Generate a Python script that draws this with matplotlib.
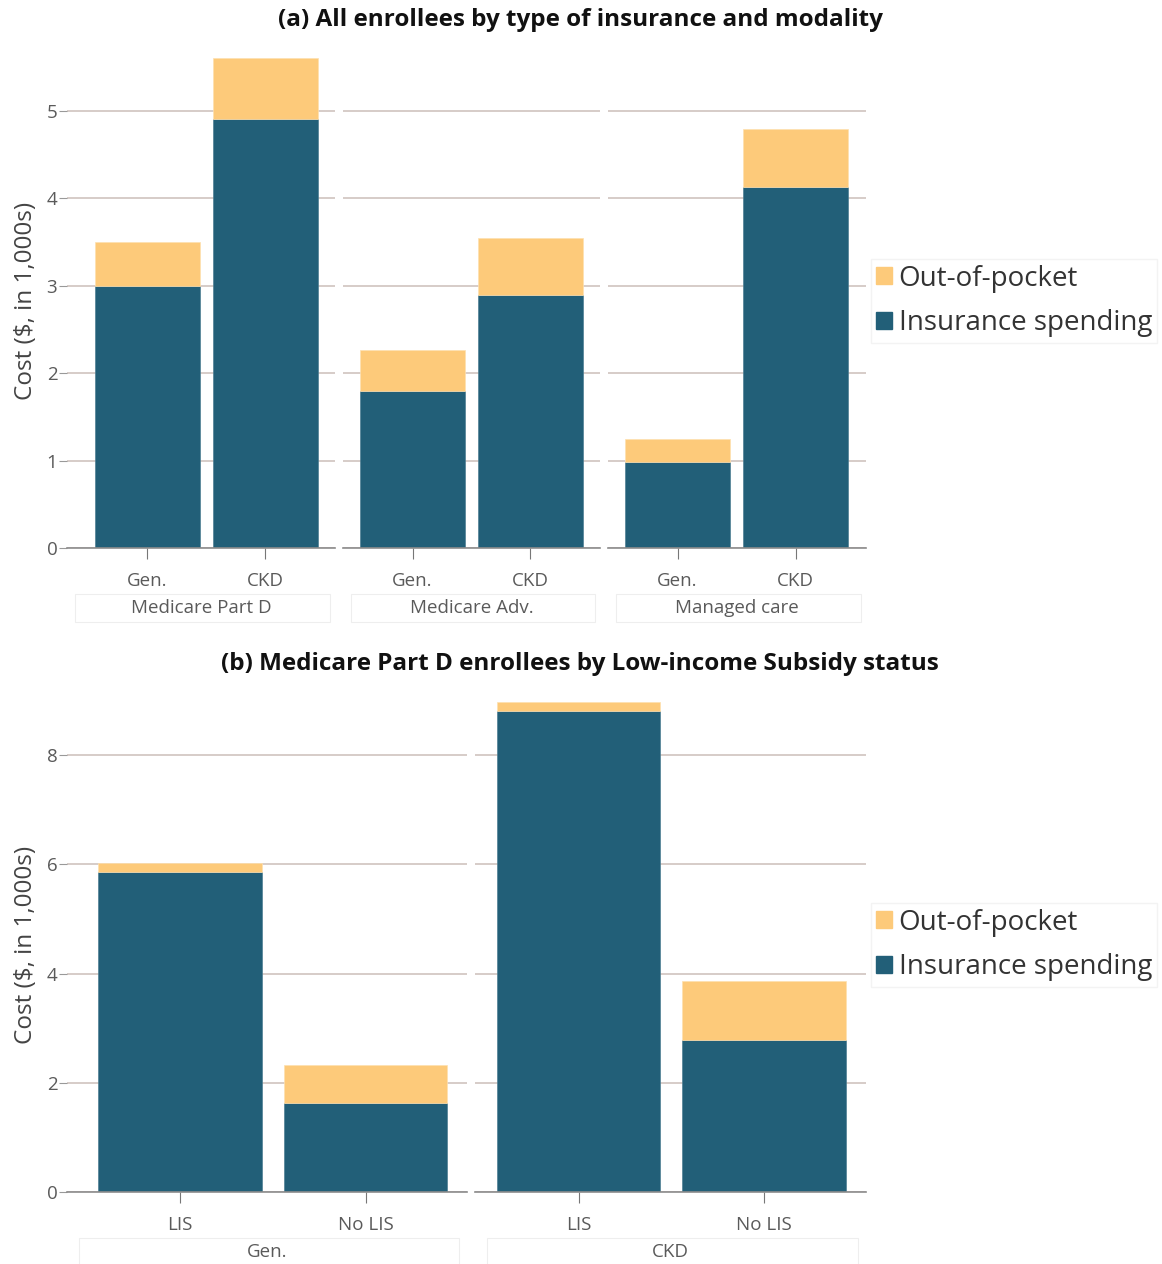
import matplotlib
matplotlib.use("Agg")
import matplotlib.pyplot as plt
from matplotlib.patches import Rectangle, Patch

plt.rcParams['font.family'] = ['Open Sans', 'DejaVu Sans']

# panel (a) data
groups_a = ["Medicare Part D", "Medicare Adv.", "Managed care"]
cats_a = ["Gen.", "CKD"]
ins_a = [[3.0, 4.91], [1.80, 2.89], [0.98, 4.13]]
oop_a = [[0.50, 0.69], [0.47, 0.65], [0.27, 0.66]]

# panel (b) data
groups_b = ["Gen.", "CKD"]
cats_b = ["LIS", "No LIS"]
ins_b = [[5.86, 1.63], [8.81, 2.79]]
oop_b = [[0.17, 0.70], [0.16, 1.07]]

teal = "#225f78"
gold = "#fdca7a"
grid_c = "#d3c8c4"
tick_c = "#5a5a5a"

W, H = 1162, 1264
fig = plt.figure(figsize=(W / 100, H / 100), dpi=100)


def px_axes(x0, x1, ytop, ybot):
    return fig.add_axes([x0 / W, 1 - ybot / H, (x1 - x0) / W, (ybot - ytop) / H])


def style(ax, ymax, yticks, show_y, xlim):
    ax.set_ylim(0, ymax)
    ax.set_xlim(*xlim)
    ax.set_yticks(yticks)
    for s in ["top", "right", "left"]:
        ax.spines[s].set_visible(False)
    ax.spines["bottom"].set_color("#8c8c8c")
    ax.spines["bottom"].set_linewidth(1.2)
    ax.yaxis.grid(True, color=grid_c, linewidth=1.3)
    ax.set_axisbelow(True)
    ax.tick_params(axis="x", length=8, color="#777777", labelsize=13.5,
                   labelcolor=tick_c, pad=9)
    ax.tick_params(axis="y", length=6 if show_y else 0, color="#999999",
                   labelsize=13.5, labelcolor=tick_c, pad=1)
    if not show_y:
        ax.set_yticklabels([])


def group_label(ax, text, ypos):
    ax.add_patch(Rectangle((0.03, ypos - 0.028), 0.95, 0.056, transform=ax.transAxes,
                           fill=False, edgecolor="#eeeeee", linewidth=0.8,
                           clip_on=False))
    ax.text(0.5, ypos, text, transform=ax.transAxes, ha="center", va="center",
            fontsize=13.5, color=tick_c)


# ---- panel (a)
xs_a = [(67, 335), (343, 600), (608, 866)]
lims_a = [(-0.682, 1.589), (-0.589, 1.589), (-0.589, 1.597)]
axes_a = []
for i, (x0, x1) in enumerate(xs_a):
    ax = px_axes(x0, x1, 54, 548)
    ax.bar(range(2), ins_a[i], width=0.89, color=teal, edgecolor="#4f7f93", linewidth=0.5)
    ax.bar(range(2), oop_a[i], width=0.89, bottom=ins_a[i], color=gold,
           edgecolor="#fde0b0", linewidth=0.5)
    ax.set_xticks(range(2))
    ax.set_xticklabels(cats_a)
    style(ax, 5.65, range(6), i == 0, lims_a[i])
    group_label(ax, groups_a[i], -0.122)
    axes_a.append(ax)
axes_a[0].set_ylabel("Cost ($, in 1,000s)", fontsize=17.5, color="#444444", labelpad=6)

# ---- panel (b)
xs_b = [(67, 467), (475, 866)]
lims_b = [(-0.609, 1.547), (-0.558, 1.550)]
axes_b = []
for i, (x0, x1) in enumerate(xs_b):
    ax = px_axes(x0, x1, 698, 1192)
    ax.bar(range(2), ins_b[i], width=0.88, color=teal, edgecolor="#4f7f93", linewidth=0.5)
    ax.bar(range(2), oop_b[i], width=0.88, bottom=ins_b[i], color=gold,
           edgecolor="#fde0b0", linewidth=0.5)
    ax.set_xticks(range(2))
    ax.set_xticklabels(cats_b)
    style(ax, 9.05, range(0, 10, 2), i == 0, lims_b[i])
    group_label(ax, groups_b[i], -0.122)
    axes_b.append(ax)
axes_b[0].set_ylabel("Cost ($, in 1,000s)", fontsize=17.5, color="#444444", labelpad=6)

# titles
fig.text(580 / W, 1 - 20 / H, "(a) All enrollees by type of insurance and modality",
         ha="center", va="center", fontsize=17.5, fontweight="bold", color="#111111")
fig.text(580 / W, 1 - 664 / H, "(b) Medicare Part D enrollees by Low-income Subsidy status",
         ha="center", va="center", fontsize=17.5, fontweight="bold", color="#111111")

# legends
handles = [Patch(color=gold, label="Out-of-pocket"),
           Patch(color=teal, label="Insurance spending")]
for ycen in (301, 945):
    fig.legend(handles=handles, loc="center left",
               bbox_to_anchor=(868 / W, 1 - ycen / H), fontsize=20,
               frameon=True, edgecolor="#f0f0f0", fancybox=False,
               handlelength=0.55, handleheight=0.55, handletextpad=0.25,
               labelspacing=0.6, borderpad=0.2, borderaxespad=0.1,
               labelcolor="#333333")

fig.savefig("out.png", dpi=100)
